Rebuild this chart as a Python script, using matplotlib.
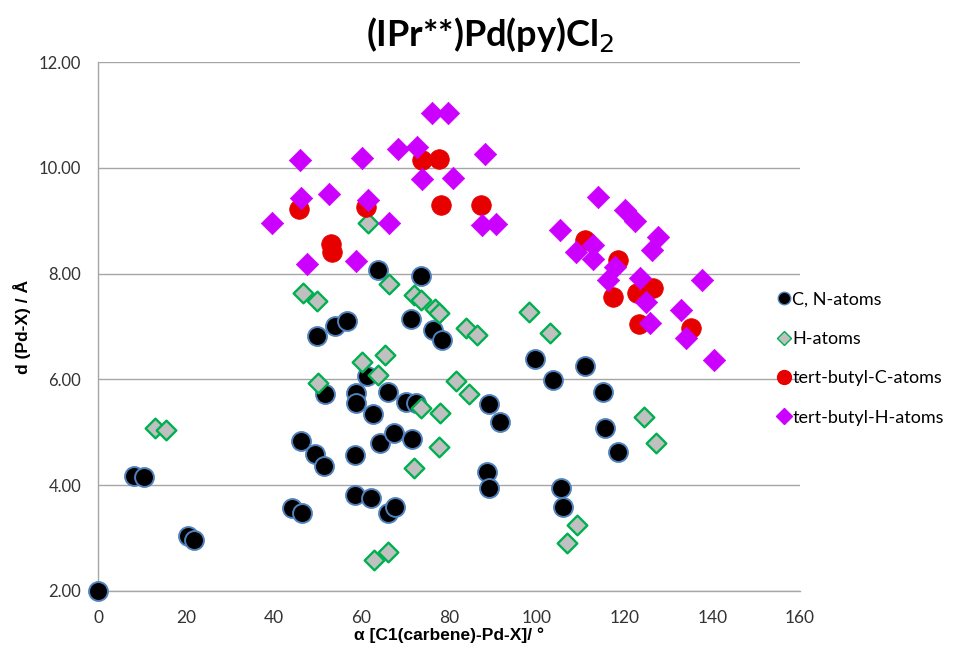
import matplotlib
matplotlib.use("Agg")
import matplotlib.pyplot as plt
from matplotlib.lines import Line2D

# ---- data ----
cn_x = [0, 8.3, 10.5, 20.4, 21.9, 44.2, 46.6, 46.2, 49.5, 51.5, 50.0, 51.7, 54.0, 56.7,
        58.6, 58.6, 62.2, 58.8, 58.9, 61.2, 62.6, 64.3, 66.0, 66.0, 67.8, 67.5, 70.2,
        71.6, 72.4, 71.4, 63.7, 73.5, 76.4, 78.5, 88.6, 89.0, 89.2, 91.6, 99.7, 103.7,
        105.5, 106.0, 111.0, 115.2, 115.6, 118.4]
cn_y = [2.00, 4.18, 4.16, 3.04, 2.96, 3.57, 3.47, 4.84, 4.58, 4.37, 6.82, 5.72, 7.00, 7.10,
        4.57, 3.81, 3.75, 5.75, 5.55, 6.06, 5.35, 4.80, 5.77, 3.47, 3.59, 4.99, 5.58,
        4.87, 5.55, 7.15, 8.07, 7.95, 6.93, 6.74, 4.24, 3.95, 5.53, 5.20, 6.38, 5.99,
        3.95, 3.58, 6.26, 5.76, 5.09, 4.63]

h_x = [13.1, 15.6, 46.8, 49.8, 50.2, 60.2, 61.6, 63.7, 65.4, 66.4, 62.9, 66.2, 72.0, 73.6,
       72.1, 73.6, 76.8, 77.7, 77.9, 77.7, 81.5, 83.9, 84.5, 86.3, 98.3, 102.9, 107.0,
       109.2, 124.4, 127.2]
h_y = [5.08, 5.04, 7.63, 7.48, 5.94, 6.32, 8.96, 6.09, 6.46, 7.80, 2.59, 2.74, 7.60, 7.50,
       4.32, 5.45, 7.33, 7.25, 5.36, 4.72, 5.97, 6.97, 5.72, 6.84, 7.28, 6.87, 2.90,
       3.25, 5.28, 4.80]

tbc_x = [45.7, 53.1, 53.3, 61.1, 73.8, 77.8, 78.2, 87.4, 111.0, 118.6, 117.3, 122.8,
         126.6, 123.2, 135.1]
tbc_y = [9.23, 8.56, 8.40, 9.25, 10.15, 10.16, 9.29, 9.30, 8.63, 8.26, 7.56, 7.63,
         7.72, 7.05, 6.97]

tbh_x = [39.7, 46.0, 46.2, 52.7, 47.6, 58.8, 60.1, 61.6, 66.4, 68.4, 72.6, 76.2, 79.7,
         73.9, 80.8, 88.2, 87.6, 90.7, 105.3, 108.9, 112.7, 112.7, 114.0, 117.8, 116.3,
         120.1, 122.5, 123.5, 124.8, 125.9, 126.3, 127.7, 132.9, 134.0, 137.6, 140.4]
tbh_y = [8.95, 10.15, 9.42, 9.51, 8.19, 8.23, 10.18, 9.40, 8.95, 10.35, 10.39, 11.03,
         11.04, 9.78, 9.80, 10.27, 8.92, 8.93, 8.82, 8.40, 8.54, 8.27, 9.45, 8.13, 7.88,
         9.20, 8.99, 7.91, 7.47, 7.07, 8.45, 8.70, 7.31, 6.78, 7.88, 6.37]

x_ticks = [0, 20, 40, 60, 80, 100, 120, 140, 160]
y_ticks = [2, 4, 6, 8, 10, 12]
series_names = ["C, N-atoms", "H-atoms", "tert-butyl-C-atoms", "tert-butyl-H-atoms"]

# ---- figure ----
plt.rcParams['font.family'] = ['DejaVu Sans']
fig = plt.figure(figsize=(9.61, 6.52), dpi=100)
ax = fig.add_axes([0.102, 0.0936, 0.7305, 0.8113])

ax.scatter(cn_x, cn_y, s=185, marker='o', c='black', edgecolors='#4f81bd',
           linewidths=1.4, zorder=3, label=series_names[0], clip_on=False)
ax.scatter(h_x, h_y, s=100, marker='D', c='#c0c0c0', edgecolors='#00b050',
           linewidths=1.7, zorder=4, label=series_names[1], clip_on=False)
ax.scatter(tbc_x, tbc_y, s=200, marker='o', c='#e60000', edgecolors='#e60000',
           linewidths=0.5, zorder=5, label=series_names[2], clip_on=False)
ax.scatter(tbh_x, tbh_y, s=130, marker='D', c='#cc00ff', edgecolors='#cc00ff',
           linewidths=0.5, zorder=6, label=series_names[3], clip_on=False)

ax.set_xlim(0, 160)
ax.set_ylim(2, 12)
ax.set_xticks(x_ticks)
ax.set_yticks(y_ticks)
ax.set_xticklabels([str(v) for v in x_ticks], fontsize=12.5, color='#333333', family='Lato')
ax.set_yticklabels([f"{v:.2f}" for v in y_ticks], fontsize=12, color='#333333', family='Lato')
ax.tick_params(axis='x', length=0, pad=14)
ax.tick_params(axis='y', length=0, pad=12)
ax.grid(axis='y', color='#a6a6a6', linewidth=1.0, zorder=0)
ax.set_axisbelow(True)
for s in ['top', 'right']:
    ax.spines[s].set_visible(False)
for s in ['left', 'bottom']:
    ax.spines[s].set_color('#a6a6a6')
    ax.spines[s].set_linewidth(1.0)
ax.spines['bottom'].set_zorder(1)

ax.set_xlabel("α [C1(carbene)-Pd-X]/ °", fontsize=12.5, fontweight='bold',
              family='Liberation Sans', labelpad=1)
ax.set_ylabel("d (Pd-X) / Å", fontsize=12.5, fontweight='bold',
              family='Liberation Sans', labelpad=6)

fig.text(0.51, 0.917, "(IPr**)Pd(py)Cl$_2$", ha='center', va='bottom', fontsize=26,
         fontweight='bold', family='Lato')

handles = [
    Line2D([], [], ls='none', marker='o', markersize=9, markerfacecolor='black',
           markeredgecolor='#4f81bd', markeredgewidth=1.0),
    Line2D([], [], ls='none', marker='D', markersize=7, markerfacecolor='#c0c0c0',
           markeredgecolor='#00b050', markeredgewidth=1.0),
    Line2D([], [], ls='none', marker='o', markersize=10, markerfacecolor='#e60000',
           markeredgecolor='#e60000'),
    Line2D([], [], ls='none', marker='D', markersize=8, markerfacecolor='#cc00ff',
           markeredgecolor='#cc00ff'),
]
leg = fig.legend(handles, series_names, loc='center left', bbox_to_anchor=(0.797, 0.45),
                 frameon=False, handlelength=0.6, handletextpad=0.15,
                 labelspacing=1.3, borderpad=0.2, prop={'family': 'Lato', 'size': 13})

fig.savefig("out.png", dpi=100)
